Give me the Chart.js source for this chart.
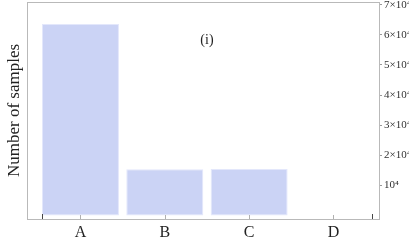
<!DOCTYPE html>
<html>
<head>
<meta charset="utf-8">
<script src="https://cdn.jsdelivr.net/npm/chart.js@4.4.0/dist/chart.umd.min.js"></script>
<style>
    html, body { margin: 0; padding: 0; background: #fff; }
    canvas { display: block; }
</style>
</head>
<body>
<canvas id="chart" width="409" height="242"></canvas>
<script>
// Data
const categories = ['A', 'B', 'C', 'D'];
const sampleCounts = [63600, 15300, 15400, 0];
const yTickValues = [10000, 20000, 30000, 40000, 50000, 60000, 70000];
const panelLabel = '(i)';

const SERIF = "'Liberation Serif', 'Times New Roman', serif";
const BAR_PCT = 0.913;

// Format y tick as a x10^4 multiple
function formatTick(v) {
    const m = Math.round(v / 10000);
    return m === 1 ? '10\u2074' : m + '\u00d710\u2074';
}

// Frame, inward x ticks and panel label
const framePlugin = {
    id: 'frame',
    afterDraw(chart) {
        const { ctx, chartArea: a, scales } = chart;
        const x = scales.x, y = scales.y;
        ctx.save();
        ctx.strokeStyle = '#b9b9b9';
        ctx.lineWidth = 1;
        ctx.strokeRect(Math.round(a.left) + 0.5, Math.round(a.top) + 0.5,
            Math.round(a.right - a.left), Math.round(a.bottom - a.top));

        // category ticks
        const bottom = Math.round(a.bottom);
        ctx.strokeStyle = '#b0b0b0';
        categories.forEach((c, i) => {
            const px = Math.round(x.getPixelForValue(i)) + 0.5;
            ctx.beginPath();
            ctx.moveTo(px, bottom);
            ctx.lineTo(px, bottom - 4);
            ctx.stroke();
        });
        // edge ticks at outer bar edges
        ctx.strokeStyle = '#444';
        [-BAR_PCT / 2, categories.length - 1 + BAR_PCT / 2].forEach(v => {
            const px = Math.round(x.getPixelForValue(v)) + 0.5;
            ctx.beginPath();
            ctx.moveTo(px, bottom);
            ctx.lineTo(px, bottom - 5);
            ctx.stroke();
        });

        ctx.fillStyle = '#222';
        ctx.font = '14px ' + SERIF;
        ctx.textAlign = 'center';
        ctx.textBaseline = 'middle';
        ctx.fillText(panelLabel, x.getPixelForValue(1.5), y.getPixelForValue(58300));
        ctx.restore();
    }
};

new Chart(document.getElementById('chart'), {
    type: 'bar',
    data: {
        datasets: [{
            data: sampleCounts.map((v, i) => ({ x: i, y: v })),
            backgroundColor: '#cbd3f5',
            borderColor: '#e3e7fb',
            borderWidth: 1,
            borderSkipped: false,
            barPercentage: BAR_PCT,
            categoryPercentage: 1
        }]
    },
    options: {
        responsive: false,
        animation: false,
        layout: { padding: { top: 2, left: 0, right: 0, bottom: 0 } },
        plugins: {
            legend: { display: false },
            tooltip: { enabled: false }
        },
        scales: {
            x: {
                type: 'linear',
                position: 'bottom',
                offset: false,
                min: -0.634,
                max: 3.54,
                afterBuildTicks(sc) {
                    sc.ticks = categories.map((c, i) => ({ value: i }));
                },
                afterFit(sc) {
                    sc.height = 23;
                    sc.paddingLeft = 0;
                    sc.paddingRight = 0;
                },
                grid: { display: false, drawTicks: false },
                border: { display: false },
                ticks: {
                    autoSkip: false,
                    maxRotation: 0,
                    padding: 4,
                    color: '#222',
                    font: { family: SERIF, size: 16 },
                    callback: v => categories[v] ?? ''
                }
            },
            y: {
                type: 'linear',
                position: 'right',
                min: -1200,
                max: 70900,
                afterBuildTicks(sc) {
                    sc.ticks = yTickValues.map(v => ({ value: v }));
                },
                afterFit(sc) {
                    sc.width = 30;
                    sc.paddingTop = 0;
                    sc.paddingBottom = 0;
                },
                grid: {
                    drawOnChartArea: false,
                    drawTicks: true,
                    tickLength: 3,
                    color: '#999'
                },
                border: { display: false },
                ticks: {
                    padding: 2,
                    color: '#333',
                    font: { family: SERIF, size: 11 },
                    callback: formatTick
                }
            },
            yTitle: {
                type: 'linear',
                position: 'left',
                afterFit(sc) {
                    sc.width = 27;
                    sc.paddingTop = 0;
                    sc.paddingBottom = 0;
                },
                grid: { display: false, drawTicks: false },
                border: { display: false },
                ticks: { display: false },
                title: {
                    display: true,
                    text: 'Number of samples',
                    color: '#222',
                    padding: { top: 4, bottom: 0 },
                    font: { family: SERIF, size: 17 }
                }
            }
        }
    },
    plugins: [framePlugin]
});
</script>
</body>
</html>
